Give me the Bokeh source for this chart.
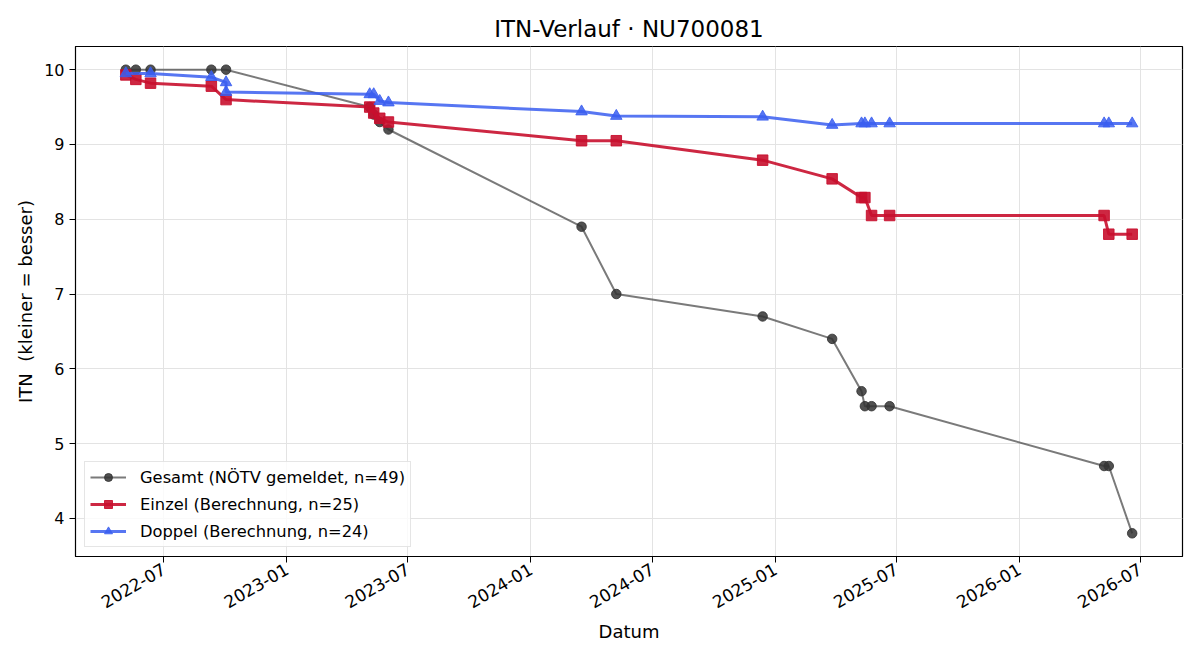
import pandas as pd
from bokeh.plotting import figure
from bokeh.models import (Range1d, FixedTicker, DatetimeTickFormatter, Legend,
                          LegendItem)
from bokeh.embed import file_html
from bokeh.resources import INLINE

# --- data -----------------------------------------------------------------
gesamt_dates = ["2022-05-05", "2022-05-20", "2022-06-11", "2022-09-10", "2022-10-02",
                "2023-05-05", "2023-05-11", "2023-05-20", "2023-06-02", "2024-03-17",
                "2024-05-08", "2024-12-13", "2025-03-27", "2025-05-10", "2025-05-15",
                "2025-05-25", "2025-06-21", "2026-05-08", "2026-05-15", "2026-06-19"]
gesamt_itn = [10.0, 10.0, 10.0, 10.0, 10.0, 9.5, 9.4, 9.3, 9.2, 7.9,
              7.0, 6.7, 6.4, 5.7, 5.5, 5.5, 5.5, 4.7, 4.7, 3.8]

einzel_dates = ["2022-05-05", "2022-05-20", "2022-06-11", "2022-09-10", "2022-10-02",
                "2023-05-05", "2023-05-11", "2023-05-20", "2023-06-02", "2024-03-17",
                "2024-05-08", "2024-12-13", "2025-03-27", "2025-05-10", "2025-05-15",
                "2025-05-25", "2025-06-21", "2026-05-08", "2026-05-15", "2026-06-19"]
einzel_itn = [9.93, 9.87, 9.82, 9.78, 9.60, 9.50, 9.42, 9.35, 9.30, 9.05,
              9.05, 8.79, 8.54, 8.29, 8.29, 8.05, 8.05, 8.05, 7.80, 7.80]

doppel_dates = ["2022-05-05", "2022-06-11", "2022-09-10", "2022-10-02", "2022-10-02",
                "2023-05-05", "2023-05-11", "2023-05-20", "2023-06-02", "2024-03-17",
                "2024-05-08", "2024-12-13", "2025-03-27", "2025-05-10", "2025-05-15",
                "2025-05-25", "2025-06-21", "2026-05-08", "2026-05-15", "2026-06-19"]
doppel_itn = [9.95, 9.95, 9.90, 9.83, 9.70, 9.67, 9.67, 9.58, 9.56, 9.44,
              9.38, 9.37, 9.26, 9.28, 9.28, 9.28, 9.28, 9.28, 9.28, 9.28]

tick_dates = ["2022-07-01", "2023-01-01", "2023-07-01", "2024-01-01", "2024-07-01",
              "2025-01-01", "2025-07-01", "2026-01-01", "2026-07-01"]

labels = ["Gesamt (NÖTV gemeldet, n=49)", "Einzel (Berechnung, n=25)",
          "Doppel (Berechnung, n=24)"]

FONT = "DejaVu Sans"

gx = pd.to_datetime(gesamt_dates)
ex = pd.to_datetime(einzel_dates)
dx = pd.to_datetime(doppel_dates)

# axis limits with 5 % padding around the data
all_x = gx.append(ex).append(dx)
xmin, xmax = all_x.min(), all_x.max()
xpad = (xmax - xmin) * 0.05
all_y = gesamt_itn + einzel_itn + doppel_itn
ymin, ymax = min(all_y), max(all_y)
ypad = (ymax - ymin) * 0.05

p = figure(width=1200, height=660, x_axis_type="datetime",
           output_backend="svg", toolbar_location=None,
           x_range=Range1d(xmin - xpad, xmax + xpad),
           y_range=Range1d(ymin - ypad, ymax + ypad),
           min_border_left=75, min_border_right=18,
           min_border_top=46, min_border_bottom=104)

p.title.text = "ITN-Verlauf · NU700081"
p.title.align = "center"
p.title.text_font = FONT
p.title.text_font_size = "23px"
p.title.text_font_style = "normal"
p.title.text_color = "black"

p.outline_line_color = "black"
p.outline_line_width = 1.2
p.outline_line_alpha = 1.0
p.background_fill_color = "white"
p.border_fill_color = "white"

# x axis: half-year ticks
tick_ms = [pd.Timestamp(d).value // 10**6 for d in tick_dates]
ticker = FixedTicker(ticks=tick_ms)
p.xaxis.ticker = ticker
p.xgrid.ticker = ticker
fmt = "%Y-%m"
p.xaxis.formatter = DatetimeTickFormatter(days=fmt, months=fmt, years=fmt,
                                          hours=fmt, minutes=fmt)
p.xaxis.major_label_orientation = 0.5236
p.xaxis.axis_label = "Datum"
p.xaxis.axis_label_standoff = 4

# y axis
yticker = FixedTicker(ticks=[4, 5, 6, 7, 8, 9, 10])
p.yaxis.ticker = yticker
p.ygrid.ticker = yticker
p.yaxis.axis_label = "ITN\u00a0 (kleiner = besser)"
p.yaxis.axis_label_standoff = 5

for ax in (p.xaxis, p.yaxis):
    ax.axis_label_text_font = FONT
    ax.axis_label_text_font_size = "18px"
    ax.axis_label_text_font_style = "normal"
    ax.axis_label_text_color = "black"
    ax.major_label_text_font = FONT
    ax.major_label_text_color = "black"
    ax.axis_line_color = "black"
    ax.major_tick_line_color = "black"
    ax.major_tick_out = 6
    ax.major_tick_in = 0
    ax.minor_tick_line_color = None
p.xaxis.major_label_text_font_size = "17px"
p.yaxis.major_label_text_font_size = "16px"

for g in (p.xgrid, p.ygrid):
    g.grid_line_color = "#e3e3e3"
    g.grid_line_width = 1

# --- series ---------------------------------------------------------------
g_line = p.line(gx, gesamt_itn, line_color="#333333", line_alpha=0.65, line_width=2)
g_pts = p.scatter(gx, gesamt_itn, marker="circle", size=9.5,
                  fill_color="#333333", fill_alpha=0.85,
                  line_color="#333333", line_alpha=0.85)

e_line = p.line(ex, einzel_itn, line_color="#C8102E", line_alpha=0.9, line_width=3)
e_pts = p.scatter(ex, einzel_itn, marker="square", size=10.5,
                  fill_color="#C8102E", fill_alpha=0.9,
                  line_color="#C8102E", line_alpha=0.9)

d_line = p.line(dx, doppel_itn, line_color="#3a5ef0", line_alpha=0.85, line_width=3)
d_pts = p.scatter(dx, doppel_itn, marker="triangle", size=11.5,
                  fill_color="#3a5ef0", fill_alpha=0.85,
                  line_color="#3a5ef0", line_alpha=0.85)

legend = Legend(items=[
    LegendItem(label=labels[0], renderers=[g_line, g_pts]),
    LegendItem(label=labels[1], renderers=[e_line, e_pts]),
    LegendItem(label=labels[2], renderers=[d_line, d_pts]),
], location="bottom_left")
legend.label_text_font = FONT
legend.label_text_font_size = "16.3px"
legend.label_text_color = "black"
legend.glyph_width = 36
legend.glyph_height = 20
legend.label_height = 20
legend.spacing = 7
legend.padding = 5
legend.margin = 9
legend.label_standoff = 14
legend.border_line_color = "#cccccc"
legend.border_line_width = 1
legend.background_fill_alpha = 0.8
p.add_layout(legend, "center")

open("out.html", "w").write(file_html(p, INLINE))
